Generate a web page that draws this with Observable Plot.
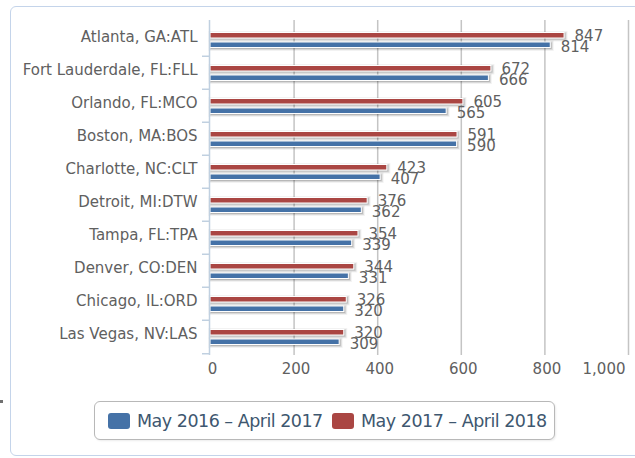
<!DOCTYPE html>
<html>
<head>
<meta charset="utf-8">
<script src="https://cdn.jsdelivr.net/npm/d3@7"></script>
<script src="https://cdn.jsdelivr.net/npm/@observablehq/plot@0.6"></script>
<style>
  body { margin: 0; background: #fff; }
  #wrap { position: relative; width: 635px; height: 458px; overflow: hidden; background: #fff; font-family: "DejaVu Sans", sans-serif; }
  #frame { position: absolute; left: 10px; top: 6px; width: 700px; height: 448px; border: 1px solid #C4D4EA; border-radius: 6px; }
  #chart { position: absolute; left: 0; top: 0; }
  #legend { position: absolute; left: 94px; top: 401px; width: 459px; height: 37px; border: 1px solid #B8B8B8; border-radius: 6px; box-shadow: 1px 1px 2px rgba(0,0,0,0.08); background: #fff; }
  .item { position: absolute; top: 0; height: 37px; display: flex; align-items: center; color: #3E576F; font-size: 17.5px; letter-spacing: -0.5px; white-space: nowrap; }
  .sw { width: 22px; height: 16px; border-radius: 3px; margin-right: 7px; }
  #dot { position: absolute; left: 0; top: 400px; width: 3px; height: 3px; background: #707070; }
</style>
</head>
<body>
<div id="wrap">
  <div id="frame"></div>
  <div id="chart"></div>
  <div id="legend"></div>
  <div id="dot"></div>
</div>
<script>
const cities = ["Atlanta, GA:ATL", "Fort Lauderdale, FL:FLL", "Orlando, FL:MCO", "Boston, MA:BOS", "Charlotte, NC:CLT", "Detroit, MI:DTW", "Tampa, FL:TPA", "Denver, CO:DEN", "Chicago, IL:ORD", "Las Vegas, NV:LAS"];
const values2016 = [814, 666, 565, 590, 407, 362, 339, 331, 320, 309];
const values2017 = [847, 672, 605, 591, 423, 376, 354, 344, 326, 320];
const seriesNames = ["May 2016 \u2013 April 2017", "May 2017 \u2013 April 2018"];
const seriesColors = ["#4572A7", "#AA4643"];
const xTicks = [0, 200, 400, 600, 800, 1000];

const rows = cities.map((c, i) => ({city: c, a: values2016[i], b: values2017[i]}));

const W = 635, H = 385, mT = 20, mB = 30, mL = 210, mR = 7;
const bw = (H - mT - mB) / cities.length;
const font = 15;
const labelColor = "#606060";

// band insets for each series bar
const redInset = {insetTop: 9.5, insetBottom: bw - 15.5};
const blueInset = {insetTop: 19, insetBottom: bw - 25};

function shadow(key, ins) {
  return [[5, 0.05], [3, 0.1], [1, 0.15]].map(([w, o]) =>
    Plot.barX(rows, {x1: 0, x2: key, y: "city", ...ins, fill: "none", stroke: "#000", strokeWidth: w, strokeOpacity: o, dx: 1, dy: 1})
  );
}

const chart = Plot.plot({
  width: W, height: H,
  marginTop: mT, marginBottom: mB, marginLeft: mL, marginRight: mR,
  style: {fontFamily: "DejaVu Sans, sans-serif", fontSize: font + "px", background: "transparent", overflow: "visible"},
  x: {domain: [0, 1000], axis: null, label: null},
  y: {domain: cities, padding: 0, axis: null, label: null},
  marks: [
    Plot.gridX(xTicks.slice(1), {stroke: "#C4C4C4", strokeOpacity: 1, strokeWidth: 1.5}),
    ...shadow("b", redInset),
    ...shadow("a", blueInset),
    Plot.barX(rows, {x1: 0, x2: "b", y: "city", ...redInset, fill: seriesColors[1], stroke: "#fff", strokeWidth: 1}),
    Plot.barX(rows, {x1: 0, x2: "a", y: "city", ...blueInset, fill: seriesColors[0], stroke: "#fff", strokeWidth: 1}),
    Plot.ruleX([0], {stroke: "#C0D0E0", strokeWidth: 1.5, dx: -1}),
    Plot.axisY({tickSize: 0, tickPadding: 13, fontSize: font, fill: labelColor, dy: -2.4, label: null}),
    Plot.axisY(cities.slice(1), {tickSize: 7, tickFormat: () => "", stroke: "#C0D0E0", strokeWidth: 1.5, dy: -bw / 2, dx: -1, label: null}),
    Plot.axisY([cities[cities.length - 1]], {tickSize: 7, tickFormat: () => "", stroke: "#C0D0E0", strokeWidth: 1.5, dy: bw / 2, dx: -1, label: null}),
    Plot.axisX(xTicks.slice(0, -1), {tickSize: 0, tickPadding: 8, fontSize: font, fill: labelColor, tickFormat: d3.format(","), dx: 2, label: null}),
    Plot.axisX(xTicks.slice(-1), {tickSize: 0, tickPadding: 8, fontSize: font, fill: labelColor, tickFormat: d3.format(","), textAnchor: "end", dx: -3, label: null}),
    Plot.text(rows, {x: "b", y: "city", text: "b", dx: 10, dy: -3.6, textAnchor: "start", fontSize: font, fill: labelColor}),
    Plot.text(rows, {x: "a", y: "city", text: "a", dx: 10, dy: 6.7, textAnchor: "start", fontSize: font, fill: labelColor})
  ]
});
document.getElementById("chart").appendChild(chart);

// legend
const legend = document.getElementById("legend");
const lefts = [13, 237];
seriesNames.forEach((name, i) => {
  const it = document.createElement("div");
  it.className = "item";
  it.style.left = lefts[i] + "px";
  const sw = document.createElement("div");
  sw.className = "sw";
  sw.style.background = seriesColors[i];
  it.appendChild(sw);
  const t = document.createElement("span");
  t.textContent = name;
  it.appendChild(t);
  legend.appendChild(it);
});
</script>
</body>
</html>
